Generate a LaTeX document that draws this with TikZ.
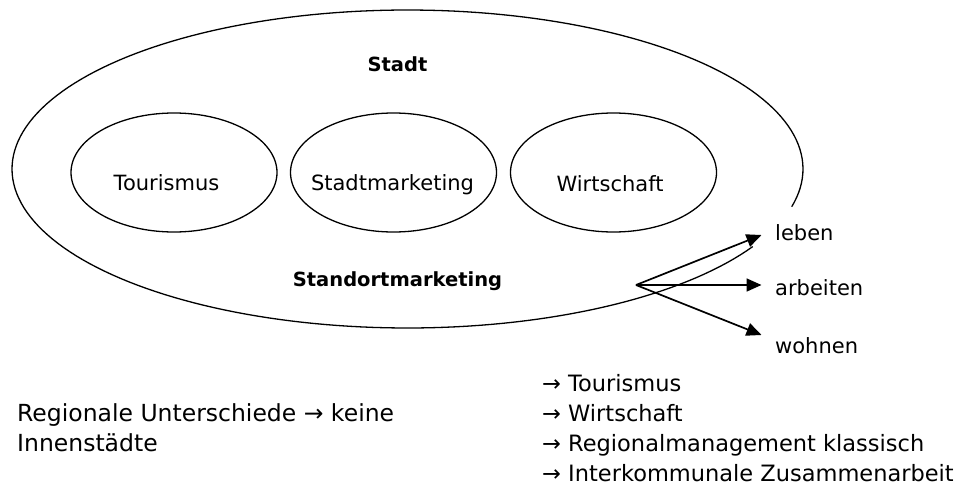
\documentclass[tikz,border=0pt]{standalone}
\usepackage{fontspec}
\setmainfont{DejaVu Sans}
\usetikzlibrary{shapes.geometric,arrows.meta}
\begin{document}
\begin{tikzpicture}[x=1pt,y=-1pt,
  inner/.style={draw,ellipse,line width=1.3pt,minimum width=206pt,minimum height=119pt,inner sep=0pt},
  lbl/.style={anchor=base,inner sep=0pt,font=\fontsize{21}{25}\selectfont},
  boldlbl/.style={anchor=base,inner sep=0pt,font=\fontsize{19.5}{23}\selectfont\bfseries},
  side/.style={anchor=base west,inner sep=0pt,font=\fontsize{21}{25}\selectfont},
  body/.style={anchor=base west,inner sep=0pt,font=\fontsize{22.5}{27}\selectfont},
  leftbody/.style={anchor=base west,inner sep=0pt,font=\fontsize{23.5}{28}\selectfont},
  arr/.style={line width=1.7pt,-{Triangle[length=15pt,width=13pt]}},
]
\useasboundingbox (0,0) rectangle (971,487);
% outer open ellipse
\draw[line width=1.3pt] plot[domain=29.2:373.7,samples=200,variable=\t] ({407.5+395.5*cos(\t)},{169+159*sin(\t)});
% inner ellipses
\node[inner] (tour) at (174,172.5) {};
\node[inner] (smk) at (393.5,172.5) {};
\node[inner] (wirt) at (613.5,172.5) {};
\node[lbl] (tourT) at (166.5,190) {Tourismus};
\node[lbl] (smkT) at (392.5,190) {Stadtmarketing};
\node[lbl] (wirtT) at (610,191) {Wirtschaft};
\node[boldlbl] (stadt) at (397.5,71) {Stadt};
\node[boldlbl] (stom) at (397.5,286) {Standortmarketing};
% side labels
\node[side] (leben) at (775,240) {leben};
\node[side] (arbeiten) at (775,295) {arbeiten};
\node[side] (wohnen) at (775,353) {wohnen};
\coordinate (src) at (636,285);
\coordinate (tL) at (761.5,235);
\coordinate (tA) at (761.5,285);
\coordinate (tW) at (761.5,335);
\draw[arr] (src) -- (tL);
\draw[arr] (src) -- (tA);
\draw[arr] (src) -- (tW);
% bottom texts
\node[leftbody] (reg1) at (17,421) {Regionale Unterschiede → keine};
\node[leftbody] (reg2) at (17,451) {Innenstädte};
\node[body] (li1) at (542,391) {→ Tourismus};
\node[body] (li2) at (542,421) {→ Wirtschaft};
\node[body] (li3) at (542,451) {→ Regionalmanagement klassisch};
\node[body] (li4) at (542,481) {→ Interkommunale Zusammenarbeit};
\end{tikzpicture}
\end{document}
